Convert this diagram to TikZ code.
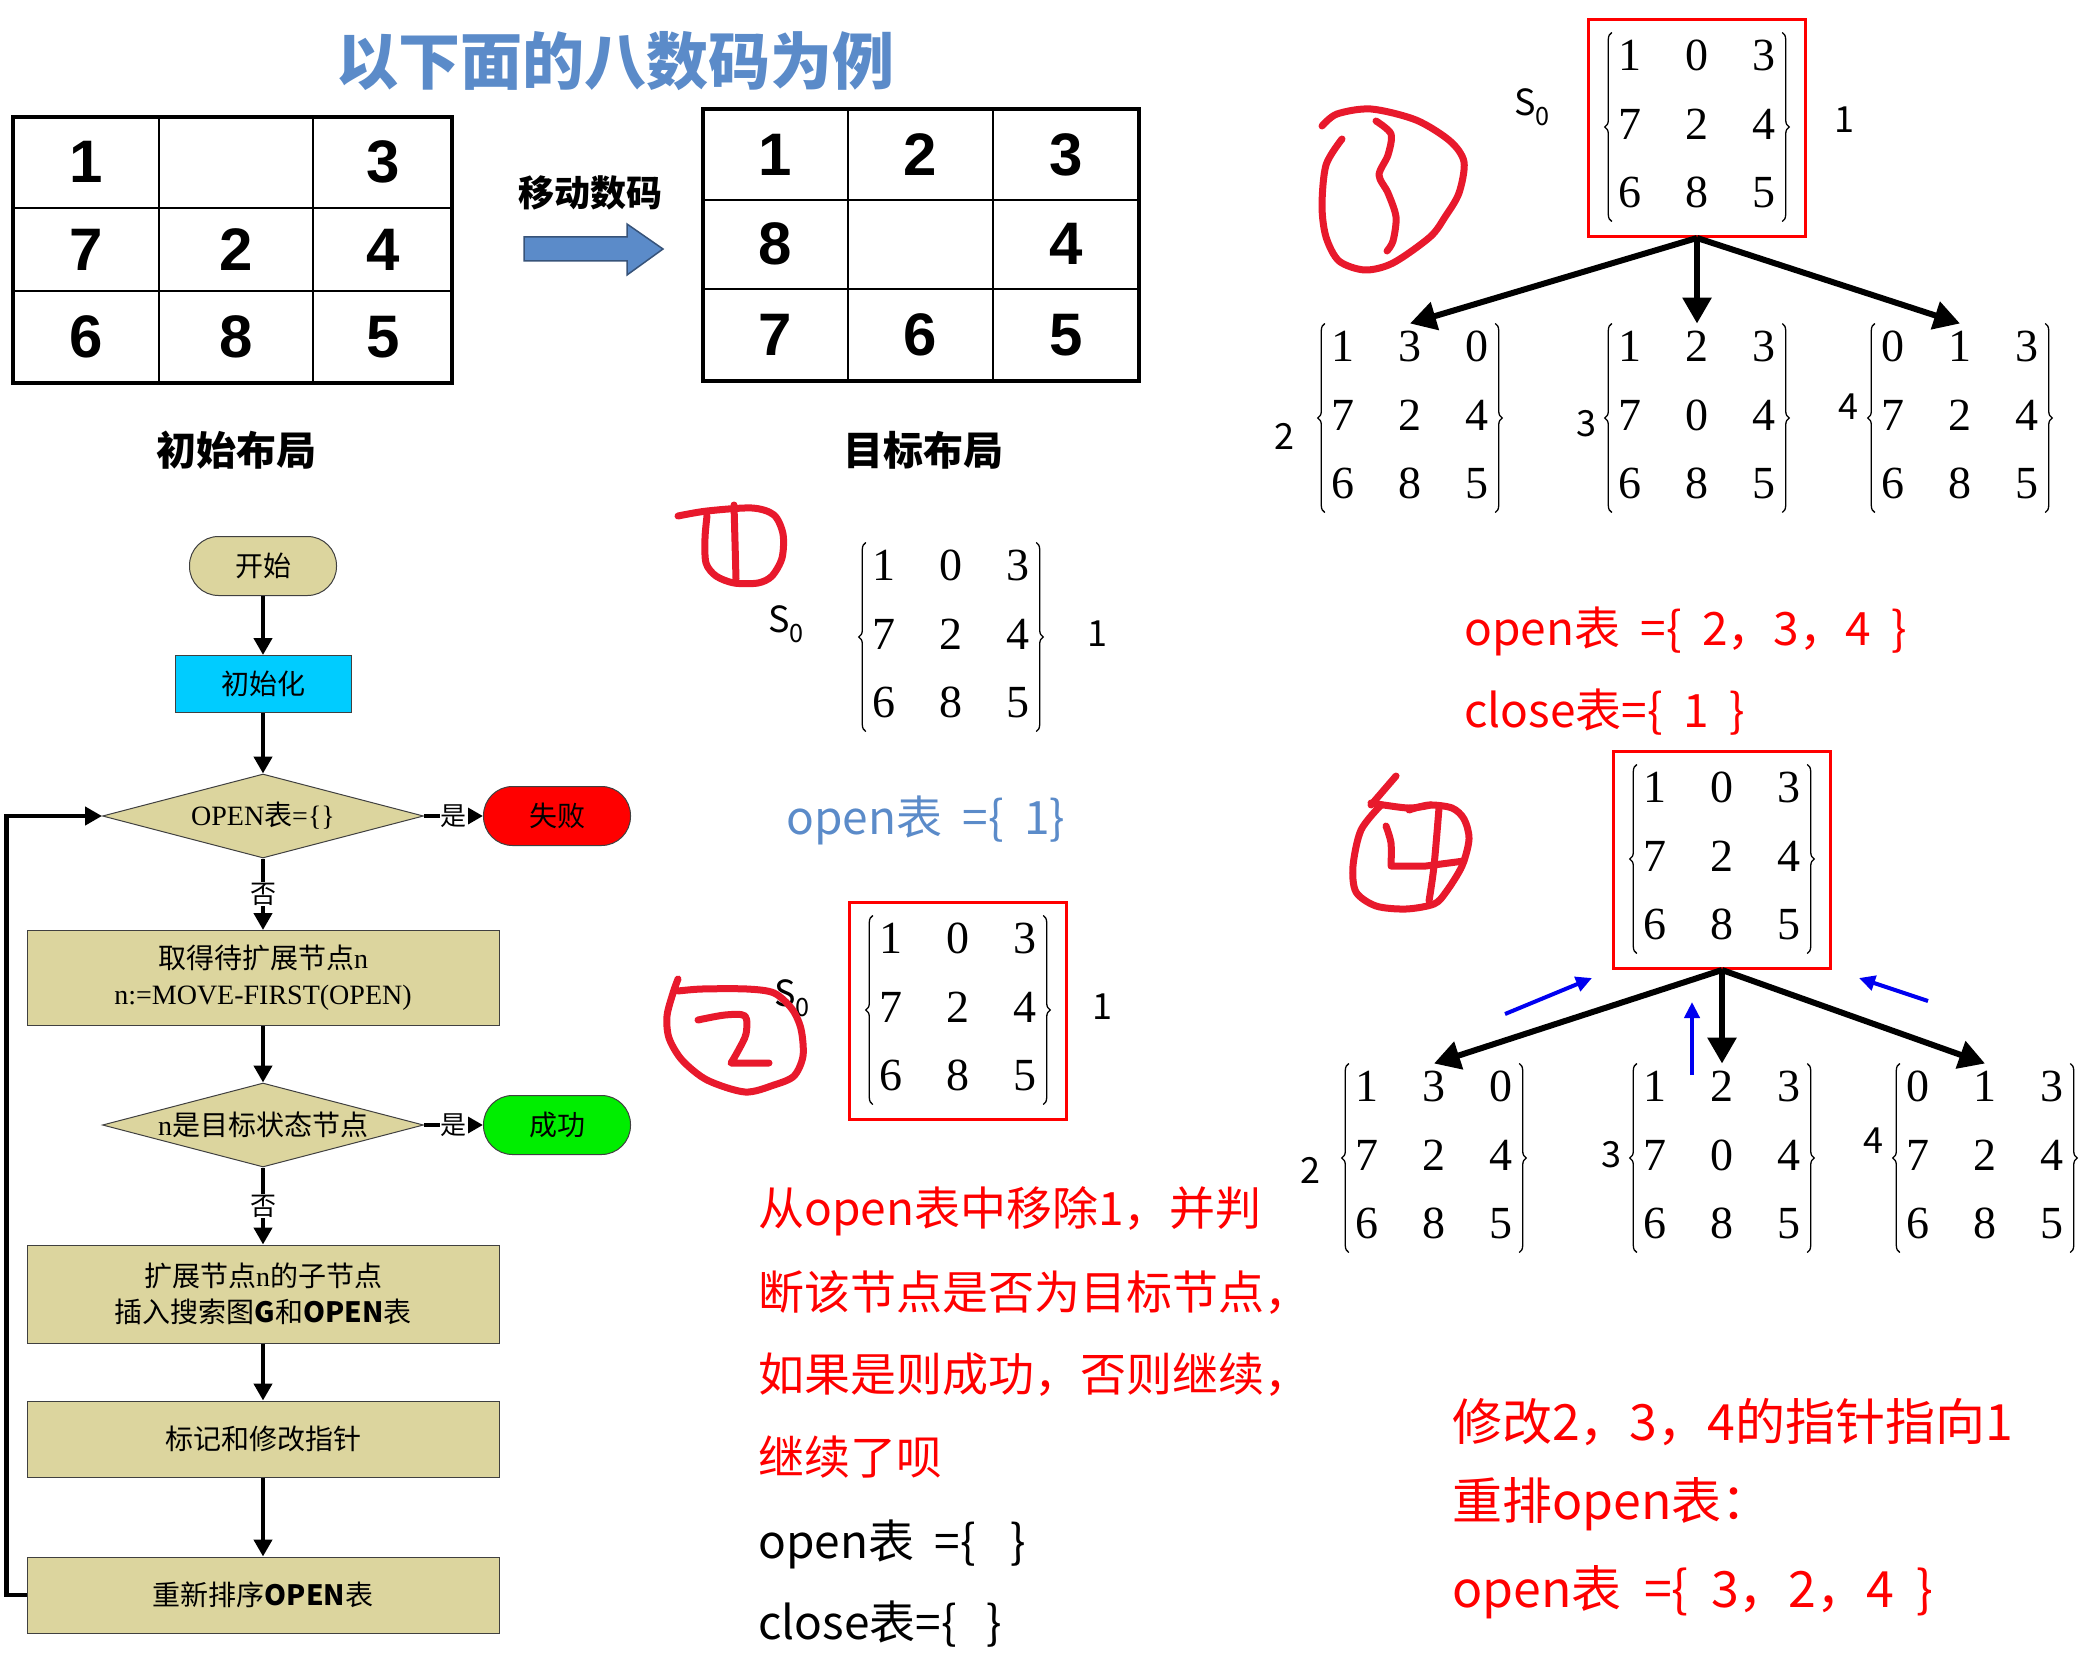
\documentclass[tikz,border=0pt]{standalone}
\usepackage{fontspec}
\setmainfont{Liberation Serif}
\setsansfont{Liberation Sans}
\newfontfamily\cjk{Noto Sans CJK SC}[WordSpace=2]
\usetikzlibrary{arrows.meta,shapes.geometric,matrix,fit,decorations.pathreplacing}

\definecolor{khaki}{RGB}{220,213,158}
\definecolor{skyb}{RGB}{0,204,255}
\definecolor{okgreen}{RGB}{0,238,0}
\definecolor{titleblue}{RGB}{91,139,201}
\definecolor{penred}{RGB}{232,25,44}
\definecolor{ptrblue}{RGB}{0,0,240}

\tikzset{
  fc/.style={draw=black!75, line width=1pt, font=\cjk\fontsize{28}{36}\selectfont, inner sep=0pt, align=center},
  term/.style={fc, rectangle, rounded corners=29pt, minimum width=147pt, minimum height=59pt},
  proc/.style={fc, rectangle, fill=khaki, minimum width=472pt},
  dec/.style={fc, diamond, fill=khaki, minimum width=321pt, minimum height=84pt, shape aspect=4},
  lbl/.style={fill=white, inner sep=1pt, font=\cjk\fontsize{26}{26}\selectfont},
  flow/.style={line width=4.5pt, -{Triangle[length=17pt,width=18pt]}},
  cell/.style={font=\sffamily\bfseries\fontsize{60}{60}\selectfont, inner sep=0pt},
  pzl/.style={matrix of nodes, inner sep=0pt, column sep=31pt, row sep=22pt,
    nodes={inner sep=0pt, minimum width=36pt, minimum height=46pt, font=\fontsize{46}{46}\selectfont}},
  brc/.style={decorate, decoration={brace, amplitude=7pt}, line width=1.3pt},
  rbox/.style={draw=red, line width=3pt, inner xsep=23pt, inner ysep=17pt, yshift=-4pt},
  tag/.style={font=\cjk\fontsize{36}{36}\selectfont, inner sep=0pt},
  tarrow/.style={line width=6pt, -{Triangle[length=26pt,width=28pt]}},
  barrow/.style={draw=ptrblue, line width=4pt, -{Triangle[length=16pt,width=15pt]}},
  note/.style={font=\cjk\fontsize{46}{46}\selectfont, anchor=west, inner sep=0pt},
  hand/.style={draw=penred, line width=7pt, line cap=round, line join=round},
}
\newcommand\brk[1]{%
  \draw[brc] ([yshift=-6pt]#1.south west) -- (#1.north west);
  \draw[brc] (#1.north east) -- ([yshift=-6pt]#1.south east);}

\begin{document}
\begin{tikzpicture}[x=1pt,y=-1pt]
\useasboundingbox (0,0) rectangle (2092,1680);

% title and the two layouts
\node[font=\cjk\bfseries\fontsize{62}{62}\selectfont, text=titleblue] (title) at (615,61) {以下面的八数码为例};
\draw[line width=4pt] (13,117) rectangle (452,383);
\draw[line width=2pt] (159,117) -- (159,383) (313,117) -- (313,383) (13,208) -- (452,208) (13,291) -- (452,291);
\foreach \d/\x/\y in {1/86/162, 3/383/162, 7/86/250, 2/236/250, 4/383/250, 6/86/337, 8/236/337, 5/383/337}
  \node[cell] (s\d) at (\x,\y) {\d};
\draw[line width=4pt] (703,109) rectangle (1139,381);
\draw[line width=2pt] (848,109) -- (848,381) (993,109) -- (993,381) (703,200) -- (1139,200) (703,289) -- (1139,289);
\foreach \d/\x/\y in {1/775/155, 2/920/155, 3/1066/155, 8/775/244, 4/1066/244, 7/775/335, 6/920/335, 5/1066/335}
  \node[cell] (g\d) at (\x,\y) {\d};
\node[font=\cjk\bfseries\fontsize{36}{36}\selectfont] (move) at (590,193) {移动数码};
\filldraw[fill=titleblue, draw=titleblue!60!black, line width=1.5pt]
  (524,237) -- (627,237) -- (627,224) -- (663,249) -- (627,275) -- (627,261) -- (524,261) -- cycle;
\node[font=\cjk\bfseries\fontsize{40}{40}\selectfont] (lstart) at (236,450) {初始布局};
\node[font=\cjk\bfseries\fontsize{40}{40}\selectfont] (lgoal) at (923,450) {目标布局};

% flowchart
\node[term, fill=khaki] (start) at (263,566) {开始};
\node[fc, rectangle, fill=skyb, minimum width=176pt, minimum height=57pt] (init) at (263,684) {初始化};
\node[dec] (d1) at (263,816) {\textrm{OPEN}表\textrm{=\{\}}};
\node[term, fill=red] (fail) at (557,816) {失败};
\node[proc, minimum height=95pt] (take) at (263,978) {取得待扩展节点\textrm{n}\\ \textrm{n:=MOVE-FIRST(OPEN)}};
\node[dec] (d2) at (263,1125) {\textrm{n}是目标状态节点};
\node[term, fill=okgreen] (succ) at (557,1125) {成功};
\node[proc, minimum height=98pt] (expand) at (263,1294) {扩展节点\textrm{n}的子节点\\ 插入搜索图\textbf{G}和\textbf{OPEN}表};
\node[proc, minimum height=76pt] (mark) at (263,1439) {标记和修改指针};
\node[proc, minimum height=76pt] (sort) at (263,1595) {重新排序\textbf{OPEN}表};
\draw[flow] (start) -- (init);
\draw[flow] (init) -- (d1);
\draw[flow] (d1) -- node[lbl] {是} (fail);
\draw[flow] (d1) -- node[lbl] {否} (take);
\draw[flow] (take) -- (d2);
\draw[flow] (d2) -- node[lbl] {是} (succ);
\draw[flow] (d2) -- node[lbl] {否} (expand);
\draw[flow] (expand) -- (mark);
\draw[flow] (mark) -- (sort);
\draw[flow] (sort.west) -- ++(-20,0) |- (d1.west);

% middle column
\matrix (mE) [pzl] at (951,634) {1 & 0 & 3 \\ 7 & 2 & 4 \\ 6 & 8 & 5 \\};
\brk{mE}
\node[tag] (sE) at (786,624) {S\textsubscript{0}};
\node[tag] (nE) at (1097,634) {1};
\node[note, text=titleblue] (open0) at (786,820) {open表 =\{ 1\}};
\matrix (mF) [pzl] at (958,1007) {1 & 0 & 3 \\ 7 & 2 & 4 \\ 6 & 8 & 5 \\};
\brk{mF}
\node[rbox, fit=(mF)] (bF) {};
\node[tag] (sF) at (792,998) {S\textsubscript{0}};
\node[tag] (nF) at (1102,1007) {1};
\node[note, text=red] (t1) at (758,1211) {从open表中移除1，并判};
\node[note, text=red] (t2) at (758,1293) {断该节点是否为目标节点，};
\node[note, text=red] (t3) at (758,1375) {如果是则成功，否则继续，};
\node[note, text=red] (t4) at (758,1457) {继续了呗};
\node[note] (open2) at (758,1544) {open表 =\{\hspace{0.75em}\}};
\node[note] (close2) at (758,1624) {close表=\{\hspace{0.65em}\}};

% first expansion
\matrix (mA) [pzl] at (1697,124) {1 & 0 & 3 \\ 7 & 2 & 4 \\ 6 & 8 & 5 \\};
\brk{mA}
\node[rbox, fit=(mA)] (bA) {};
\node[tag] (sA) at (1532,107) {S\textsubscript{0}};
\node[tag] (nA) at (1844,120) {1};
\matrix (mB) [pzl] at (1410,415) {1 & 3 & 0 \\ 7 & 2 & 4 \\ 6 & 8 & 5 \\};
\brk{mB}
\matrix (mC) [pzl] at (1697,415) {1 & 2 & 3 \\ 7 & 0 & 4 \\ 6 & 8 & 5 \\};
\brk{mC}
\matrix (mD) [pzl] at (1960,415) {0 & 1 & 3 \\ 7 & 2 & 4 \\ 6 & 8 & 5 \\};
\brk{mD}
\node[tag] (nB) at (1284,436) {2};
\node[tag] (nC) at (1586,424) {3};
\node[tag] (nD) at (1848,407) {4};
\draw[tarrow] (bA.south) -- (mB.north);
\draw[tarrow] (bA.south) -- (mC.north);
\draw[tarrow] (bA.south) -- (mD.north);
\node[note, text=red] (open1) at (1464,631) {open表 =\{ 2，3，4 \}};
\node[note, text=red] (close1) at (1464,712) {close表=\{ 1 \}};

% second expansion
\matrix (mG) [pzl] at (1722,856) {1 & 0 & 3 \\ 7 & 2 & 4 \\ 6 & 8 & 5 \\};
\brk{mG}
\node[rbox, fit=(mG)] (bG) {};
\matrix (mH) [pzl] at (1434,1155) {1 & 3 & 0 \\ 7 & 2 & 4 \\ 6 & 8 & 5 \\};
\brk{mH}
\matrix (mI) [pzl] at (1722,1155) {1 & 2 & 3 \\ 7 & 0 & 4 \\ 6 & 8 & 5 \\};
\brk{mI}
\matrix (mJ) [pzl] at (1985,1155) {0 & 1 & 3 \\ 7 & 2 & 4 \\ 6 & 8 & 5 \\};
\brk{mJ}
\node[tag] (nH) at (1310,1170) {2};
\node[tag] (nI) at (1611,1155) {3};
\node[tag] (nJ) at (1873,1141) {4};
\draw[tarrow] (bG.south) -- (mH.north);
\draw[tarrow] (bG.south) -- (mI.north);
\draw[tarrow] (bG.south) -- (mJ.north);
\coordinate (p1) at (1505,1014); \coordinate (q1) at (1592,978);
\coordinate (p2) at (1692,1075); \coordinate (q2) at (1692,1002);
\coordinate (p3) at (1928,1001); \coordinate (q3) at (1859,978);
\draw[barrow] (p1) -- (q1);
\draw[barrow] (p2) -- (q2);
\draw[barrow] (p3) -- (q3);
\node[note, text=red, font=\cjk\fontsize{50}{50}\selectfont] (r1) at (1452,1422) {修改2，3，4的指针指向1};
\node[note, text=red, font=\cjk\fontsize{50}{50}\selectfont] (r2) at (1452,1504) {重排open表：};
\node[note, text=red, font=\cjk\fontsize{50}{50}\selectfont] (r3) at (1452,1592) {open表 =\{ 3，2，4 \}};

% hand-written step marks
\draw[hand] plot[smooth] coordinates {(1322,126) (1337,114) (1371,109) (1416,120) (1450,141) (1464,162) (1459,193) (1445,217) (1430,237) (1393,263) (1365,270) (1339,261) (1326,237) (1322,206) (1326,165) (1342,139)};
\draw[hand] plot[smooth] coordinates {(1376,121) (1391,134) (1388,155) (1379,175) (1388,193) (1396,217) (1393,241) (1387,251)};
\draw[hand] plot[smooth] coordinates {(678,516) (707,511) (752,508) (774,515) (783,534) (782,558) (772,576) (758,583) (734,583) (716,576) (706,563) (705,538) (707,516)};
\draw[hand] (734,505) -- (736,579);
\draw[hand] plot[smooth] coordinates {(678,979) (673,993) (667,1016) (669,1038) (682,1060) (707,1080) (745,1092) (774,1085) (794,1076) (803,1056) (801,1029) (792,1009) (774,993) (747,989) (702,989) (678,991)};
\draw[hand] plot[smooth] coordinates {(698,1020) (725,1015) (745,1016) (746,1034) (738,1051) (731,1063)} -- (769,1063);
\draw[hand] (1396,776) -- (1371,805);
\draw[hand] plot[smooth] coordinates {(1371,803) (1408,808) (1431,805)};
\draw[hand] plot[smooth] coordinates {(1381,805) (1361,830) (1353,866) (1356,892) (1376,906) (1406,909) (1434,904) (1446,892) (1462,866) (1469,839) (1464,819) (1452,808) (1429,805) (1409,810)};
\draw[hand] plot[smooth] coordinates {(1386,826) (1391,843) (1391,866)} -- (1426,866) -- (1464,861);
\draw[hand] plot[smooth] coordinates {(1439,808) (1434,866) (1429,901)};
\end{tikzpicture}
\end{document}
